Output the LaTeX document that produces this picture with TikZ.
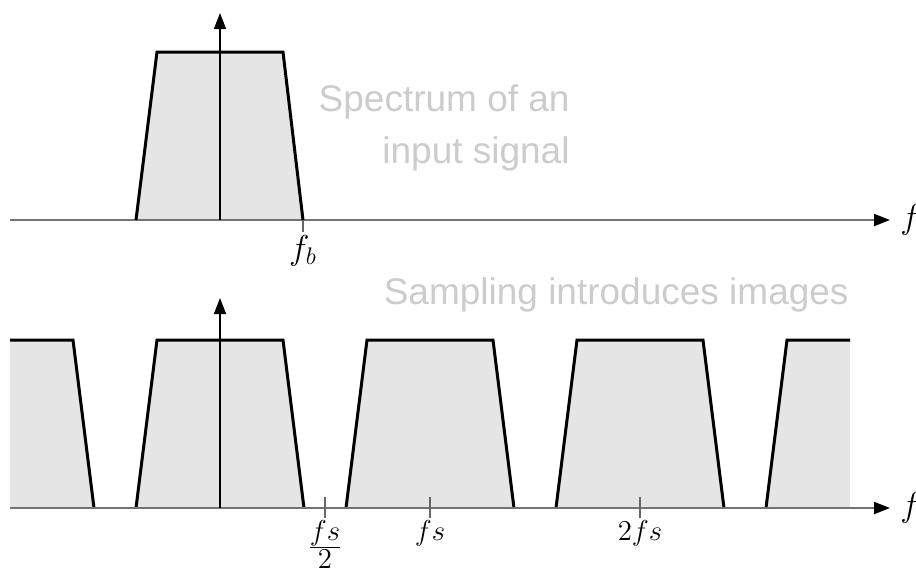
\documentclass[tikz,border=0pt]{standalone}
\usepackage{amsmath}
\usepackage{fontspec}
\setsansfont{Liberation Sans}
\usetikzlibrary{positioning, arrows.meta}

\begin{document}
\begin{tikzpicture}[x=0.5pt, y=-0.5pt,
    band/.style={fill=black!10, draw=none},
    edge/.style={draw=black, line width=1.5pt, line join=miter},
    faxis/.style={draw=black!55, line width=1pt, -{Triangle[length=8pt, width=6pt, color=black]}},
    vaxis/.style={draw=black, line width=0.7pt, -{Triangle[length=8pt, width=6pt]}},
    tickmark/.style={draw=black!60, line width=0.6pt},
    lbl/.style={font=\LARGE, inner sep=0pt},
    slbl/.style={font=\Large, inner sep=0pt},
    caption/.style={font=\sffamily\fontsize{18.5}{26}\selectfont, text=black!20, align=right, inner sep=0pt}]
    \useasboundingbox (0,0) rectangle (916,575);
    % top panel: spectrum of the input, band limited to f_b
    \fill[band] (136,220) -- (157,52) -- (283,52) -- (303,220) -- cycle;
    \coordinate (t0) at (10,220);
    \coordinate (tf) at (890,220);
    \coordinate (tv0) at (220,220);
    \coordinate (tv1) at (220,13);
    \draw[faxis] (t0) -- (tf);
    \draw[vaxis] (tv0) -- (tv1);
    \draw[edge] (136,220) -- (157,52) -- (283,52) -- (303,220);
    \coordinate (fb0) at (303,220);
    \coordinate (fb1) at (303,232);
    \draw[tickmark] (fb0) -- (fb1);
    \node[lbl, below=1.5pt of fb1] (fblabel) {$f_b$};
    \node[lbl, right=5pt of tf] (tflabel) {$f$};
    \node[caption, anchor=north east] (incap) at (570,84) {Spectrum of an\\input signal};
    % bottom panel: images repeat every f_s, clipped at both ends
    \begin{scope}
      \clip (10,0) rectangle (850,575);
      \foreach \c in {10,220,430,640,850} {
        \fill[band] (\c-84,508) -- (\c-63,340) -- (\c+63,340) -- (\c+84,508) -- cycle;
        \draw[edge] (\c-84,508) -- (\c-63,340) -- (\c+63,340) -- (\c+84,508);
      }
    \end{scope}
    \coordinate (b0) at (10,508);
    \coordinate (bf) at (890,508);
    \coordinate (bv0) at (220,508);
    \coordinate (bv1) at (220,298);
    \draw[faxis] (b0) -- (bf);
    \draw[vaxis] (bv0) -- (bv1);
    \node[lbl, right=5pt of bf] (bflabel) {$f$};
    \foreach \x/\n in {325/half, 430/one, 640/two} {
      \coordinate (tick\n) at (\x,497);
      \coordinate (tickend\n) at (\x,518);
      \draw[tickmark] (tick\n) -- (tickend\n);
    }
    \node[slbl, below=1pt of tickendhalf] (halflabel) {$\frac{\textstyle fs}{\textstyle 2}$};
    \node[slbl, below=1pt of tickendone] (onelabel) {$fs$};
    \node[slbl, below=1pt of tickendtwo] (twolabel) {$2fs$};
    \node[caption, anchor=north east] (imgcap) at (849,277) {Sampling introduces images};
\end{tikzpicture}
\end{document}
